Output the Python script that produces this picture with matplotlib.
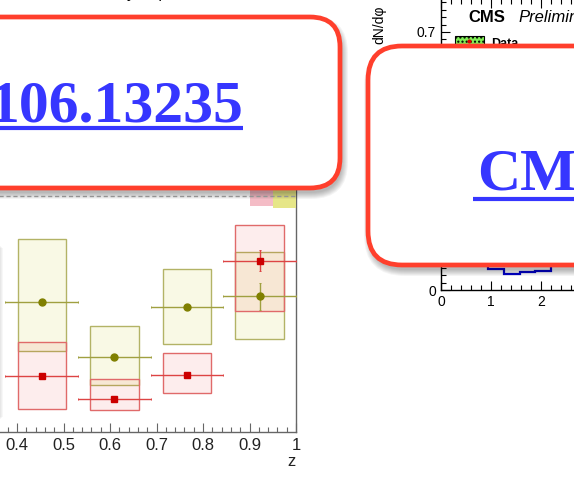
import matplotlib
matplotlib.use("Agg")
import matplotlib.pyplot as plt
from matplotlib.patches import FancyBboxPatch, Rectangle
from matplotlib.ticker import MultipleLocator

W, H = 574, 492
DPI = 100

# ---- left panel: yields vs z (two series, stat + syst) ----
z_edges = [0.375, 0.53125, 0.6875, 0.84375, 1.0]
olive_vals = [0.552, 0.317, 0.531, 0.576]
olive_stat = [0.013, 0.006, 0.010, 0.057]
olive_sys_lo = [0.210, 0.119, 0.159, 0.183]
olive_sys_hi = [0.265, 0.131, 0.158, 0.185]
red_vals = [0.236, 0.139, 0.243, 0.726]
red_stat = [0.006, 0.005, 0.006, 0.045]
red_sys_lo = [0.140, 0.046, 0.079, 0.215]
red_sys_hi = [0.147, 0.084, 0.093, 0.151]
norm_unc_red = 0.041
norm_unc_olive = 0.052
z_ticks = [0.4, 0.5, 0.6, 0.7, 0.8, 0.9, 1.0]
z_tick_labels = ["0.4", "0.5", "0.6", "0.7", "0.8", "0.9", "1"]

# ---- right panel: dN/dphi histogram ----
phi_edges = [0.628, 0.942, 1.257, 1.571, 1.885, 2.199, 2.513]
phi_vals = [0.085, 0.056, 0.043, 0.048, 0.052, 0.075]
phi_ticks = [0, 1, 2]
phi_tick_labels = ["0", "1", "2"]
dn_ticks = [0, 0.1, 0.2, 0.3, 0.4, 0.5, 0.6, 0.7]
dn_tick_labels = ["0", "0.1", "0.2", "0.3", "0.4", "0.5", "0.6", "0.7"]

OLIVE = "#808000"
RED = "#cc0000"
SANS = ["Liberation Sans", "DejaVu Sans"]
SERIF = ["Liberation Serif", "DejaVu Serif"]


def fx(px):
    return px / W


def fy(py):
    return 1 - py / H


fig = plt.figure(figsize=(W / DPI, H / DPI), dpi=DPI)
fig.patch.set_facecolor("white")

# left axes: z=0.4 at px 17, z=1 at px 296; y=0 at py 432, 236 px per unit
z_lo, z_hi = 0.3, 1.0
px_per_z = 465.0
left_px = 296 - (z_hi - z_lo) * px_per_z
y_top = 1.3
ax = fig.add_axes([fx(left_px), fy(432), (296 - left_px) / W, y_top * 236 / H])
ax.set_xlim(z_lo, z_hi)
ax.set_ylim(0, y_top)
for s in ("top", "left"):
    ax.spines[s].set_visible(False)
for s in ("bottom", "right"):
    ax.spines[s].set_color("#666666")
    ax.spines[s].set_linewidth(1.0)
ax.set_yticks([])
ax.set_xticks(z_ticks)
ax.set_xticklabels(z_tick_labels)
ax.xaxis.set_minor_locator(MultipleLocator(0.02))
ax.tick_params(axis="x", which="major", direction="in", length=6.5, width=0.8,
               color="#666666", labelsize=12, labelcolor="#222222", pad=4)
ax.tick_params(axis="x", which="minor", direction="in", length=3.6, width=0.8,
               color="#666666")
for lab in ax.get_xticklabels():
    lab.set_fontfamily(SANS)
ax.set_xlabel("z", loc="right", fontsize=12, color="#222222", family=SANS,
              labelpad=1)

centers = [(a + b) / 2 for a, b in zip(z_edges[:-1], z_edges[1:])]
halfw = [(b - a) / 2 for a, b in zip(z_edges[:-1], z_edges[1:])]
box_hw = 0.052

# reference line and normalisation boxes at the right edge
ax.axhline(1.0, color="#aaaaaa", lw=1.0, ls=(0, (3, 2)), zorder=4)
ax.add_patch(Rectangle((0.9015, 1 - norm_unc_red), 0.0495, 2 * norm_unc_red,
                       fc="#f4bcc6", ec="none", zorder=3))
ax.add_patch(Rectangle((0.951, 1 - norm_unc_olive), 0.049, 2 * norm_unc_olive,
                       fc="#e6e688", ec="none", zorder=3))

for c, v, lo, hi in zip(centers, olive_vals, olive_sys_lo, olive_sys_hi):
    ax.add_patch(Rectangle((c - box_hw, v - lo), 2 * box_hw, lo + hi,
                           fc=(0.8, 0.8, 0.0, 0.1), ec="#b3b366", lw=1.0, zorder=2))
for c, v, lo, hi in zip(centers, red_vals, red_sys_lo, red_sys_hi):
    ax.add_patch(Rectangle((c - box_hw, v - lo), 2 * box_hw, lo + hi,
                           fc=(0.9, 0.0, 0.0, 0.07), ec="#e06a6a", lw=1.0, zorder=2))

ax.errorbar(centers, olive_vals, xerr=halfw, yerr=olive_stat, fmt="o",
            color=OLIVE, ecolor="#a0a040", elinewidth=1.0, ms=5, capsize=1.0,
            capthick=0.7, zorder=5)
ax.errorbar(centers, red_vals, xerr=halfw, yerr=red_stat, fmt="s",
            color=RED, ecolor="#dd4444", elinewidth=1.0, ms=4.5, capsize=1.0,
            capthick=0.7, zorder=6)

# top strip: descenders of the panel caption above
for px, ch in [(131, "y"), (160, "|"), (182, ","), (273, ",")]:
    fig.text(fx(px), fy(-2), ch, fontsize=12, family=SANS, color="black",
             ha="center", va="baseline")

# ---- right axes: phi=0 at px 441, 50 px per unit; y=0 at py 290 ----
px_per_phi = 50.0
py_per_y = 368.6
r_ymax = 0.79
r_xmax = 3.2
ax2 = fig.add_axes([fx(441), fy(290), r_xmax * px_per_phi / W, r_ymax * py_per_y / H])
ax2.set_xlim(0, r_xmax)
ax2.set_ylim(0, r_ymax)
ax2.stairs(phi_vals, phi_edges, baseline=None, color="#0000cc", lw=1.6, zorder=3)
ax2.xaxis.set_minor_locator(MultipleLocator(0.2))
ax2.yaxis.set_minor_locator(MultipleLocator(0.02))
ax2.set_xticks(phi_ticks)
ax2.set_xticklabels(phi_tick_labels)
ax2.set_yticks(dn_ticks)
ax2.set_yticklabels(dn_tick_labels)
ax2.tick_params(which="both", direction="in", top=True, right=True,
                labelsize=10, width=0.8, color="black")
ax2.tick_params(which="major", length=6.5)
ax2.tick_params(which="minor", length=3.4)
for lab in ax2.get_xticklabels() + ax2.get_yticklabels():
    lab.set_fontfamily(SANS)
for s in ax2.spines.values():
    s.set_linewidth(1.0)
fig.text(fx(379), fy(44), "dN/dφ", rotation=90, rotation_mode="anchor",
         ha="left", va="center", fontsize=10, family=SANS)
fig.text(fx(468), fy(22), "CMS", fontsize=12, weight="bold", family=SANS,
         ha="left", va="baseline")
fig.text(fx(518), fy(22), "Prelimin", fontsize=12, style="italic",
         family=SANS, ha="left", va="baseline")
fig.text(fx(491), fy(47), "Data", fontsize=9, weight="bold", family=SANS,
         ha="left", va="baseline")

# ---- overlay layer in pixel coordinates ----
ov = fig.add_axes([0, 0, 1, 1], zorder=10)
ov.set_xlim(0, W)
ov.set_ylim(H, 0)
ov.axis("off")
ov.patch.set_alpha(0)

# legend swatch of the right panel (partly covered)
ov.add_patch(Rectangle((455, 36), 29, 14, fc="#7fef55", ec="black", lw=0.8,
                       hatch="....", zorder=1))
ov.plot([469], [41], "o", color="#dd0000", ms=2, zorder=2)


def shadowed_box(x0, y0, w, h, r, z):
    for k in range(7, 0, -1):
        ov.add_patch(FancyBboxPatch((x0 + 2 - k + 1, y0 + 5 - k + 1), w + 2 * k - 2,
                                    h + 2 * k - 2,
                                    boxstyle=f"round,pad=0,rounding_size={r + k}",
                                    fc="black", ec="none", alpha=0.045, zorder=z))
    ov.add_patch(FancyBboxPatch((x0, y0), w, h,
                                boxstyle=f"round,pad=0,rounding_size={r}",
                                fc="white", ec="#ff3f2c", lw=3.4, zorder=z + 1))


# faint edge of a panel to the left
for k in range(4):
    ov.add_patch(Rectangle((-30, 245 + k), 30 + k, 175 - 2 * k, fc="black",
                           ec="none", alpha=0.03, zorder=3))

shadowed_box(-80, 17, 420, 171, 30, 4)
shadowed_box(368, 46, 330, 219, 34, 6)

LINK = "#3636ff"
ov.text(243, 122, "106.13235", fontsize=43, weight="bold", family=SERIF,
        color=LINK, ha="right", va="baseline", zorder=8)
ov.plot([-10, 243], [127.5, 127.5], color=LINK, lw=3.0, solid_capstyle="butt",
        zorder=8)
ov.text(477, 190, "CM", fontsize=43, weight="bold", family=SERIF,
        color=LINK, ha="left", va="baseline", zorder=8)
ov.plot([473, 600], [198.5, 198.5], color=LINK, lw=3.0, solid_capstyle="butt",
        zorder=8)

fig.savefig("out.png", dpi=DPI)
